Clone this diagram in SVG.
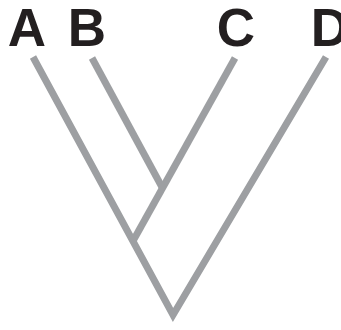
<svg xmlns="http://www.w3.org/2000/svg" width="341" height="330" viewBox="0 0 341 330">
<style>
.lbl{font-family:"Liberation Sans",Arial,sans-serif;font-weight:bold;font-size:53px;fill:#231f20;text-anchor:middle}
.br{stroke:#9d9fa2;stroke-width:7;fill:none;stroke-linecap:butt;stroke-linejoin:miter}
</style>
<rect width="341" height="330" fill="#ffffff"/>
<g id="connectors">
<polyline class="br" points="33,57 173,315 326,57"/>
<line class="br" x1="235" y1="58" x2="133" y2="241"/>
<line class="br" x1="92" y1="58" x2="163" y2="189"/>
</g>
<g id="A"><text class="lbl" x="27" y="46">A</text></g>
<g id="B"><text class="lbl" x="87" y="46">B</text></g>
<g id="C"><text class="lbl" x="236" y="46">C</text></g>
<g id="D"><text class="lbl" x="330" y="46">D</text></g>
</svg>
